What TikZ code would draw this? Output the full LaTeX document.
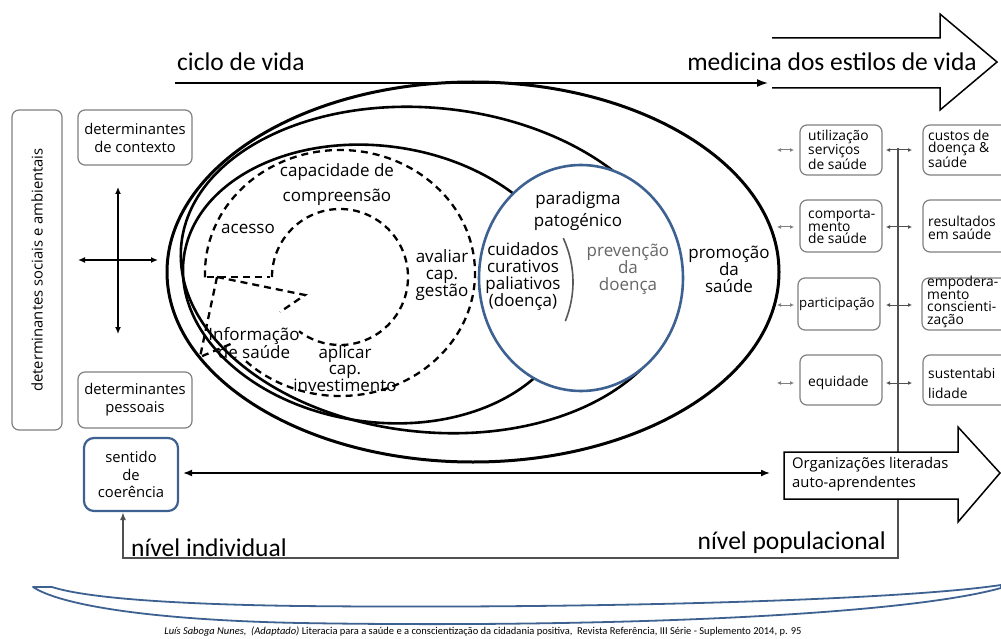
\documentclass[tikz,border=0pt]{standalone}
\usepackage{fontspec}
\setmainfont{Open Sans}
\newfontfamily\calfont{Carlito}
\usetikzlibrary{arrows.meta}
\definecolor{bblue}{HTML}{3D6190}
\definecolor{bgray}{HTML}{808080}
\definecolor{dgray}{HTML}{505050}
\begin{document}
\begin{tikzpicture}[x=1pt,y=-1pt,
  gbox/.style={draw=bgray, line width=1.2pt, rounded corners=7pt, fill=white, inner sep=0pt},
  ell/.style={line width=2.6pt},
  dsh/.style={line width=2.3pt, dash pattern=on 7pt off 5pt},
  lbl/.style={align=center, inner sep=0pt, font=\fontsize{17}{17}\selectfont},
  btxt/.style={align=center, inner sep=0pt, font=\fontsize{14.8}{18}\selectfont},
  rtxt/.style={align=left, inner sep=0pt, anchor=west, font=\fontsize{13.8}{12.5}\selectfont},
  sarr/.style={{Latex[length=4pt,width=4pt]}-{Latex[length=4pt,width=4pt]}, line width=1pt},
  bigtxt/.style={inner sep=0pt, font=\calfont\fontsize{25.5}{28}\selectfont},
]
\useasboundingbox (0,0) rectangle (1001,639);
\fill[white] (0,0) rectangle (1001,639);

% top arrow "ciclo de vida"
\coordinate (cv1) at (175,83);
\coordinate (cv2) at (768,83);
\draw[-{Latex[length=11pt,width=8pt]}, line width=1.6pt] (cv1) -- (cv2);
\node[bigtxt, anchor=west] (cvt) at (177,62) {ciclo de vida};

% big outlined arrow top right
\draw[line width=1.5pt, line join=miter] (772,38) -- (940,38) -- (940,14) -- (997,62) -- (940,110) -- (940,88) -- (772,88);
\node[bigtxt] (med) at (832,62) {medicina dos estilos de vida};

% ellipses
\draw[ell, line width=3pt] (473,272) ellipse [x radius=306, y radius=190];
\begin{scope}[shift={(430,270)}, rotate=-6]
  \draw[ell] (0,0) ellipse [x radius=250, y radius=162];
\end{scope}
\begin{scope}[shift={(378,284)}, rotate=-8]
  \draw[ell] (0,0) ellipse [x radius=196, y radius=138];
\end{scope}

% dashed figure
\draw[dsh] (340,273) ++(178:135 and 123) arc[start angle=178, end angle=496, x radius=135, y radius=123];
\draw[dsh] (340,277) ++(180:68) arc[start angle=180, end angle=487, radius=68];
\coordinate (k1) at (207,277);
\coordinate (k2) at (270,277);
\coordinate (k3) at (217,277);
\coordinate (k4) at (305,295);
\coordinate (k5) at (280,312);
\coordinate (k6) at (200,357);
\coordinate (k7) at (233,343);
\draw[dsh] (k1) -- (k2);
\draw[dsh] (k3) -- (k4) -- (k5);
\draw[dsh] (k3) -- (k6) -- (k7);

% blue circle
\draw[bblue, line width=2.6pt, fill=white] (581,278) ellipse [x radius=102, y radius=113];
\draw[black!65, line width=1.6pt] (375,282) ++(-18:198 and 142) arc[start angle=-18, end angle=16, x radius=198, y radius=142];

% labels in ellipses
\node[lbl] (cap1) at (337,172) {capacidade de};
\node[lbl] (cap2) at (337,197) {compreensão};
\node[lbl] (ace) at (248,229) {acesso};
\node[lbl] (ava) at (442,275) {avaliar\\cap.\\gestão};
\node[lbl] (inf) at (254,343) {Informação\\de saúde};
\node[lbl, font=\fontsize{17}{15.5}\selectfont] (apl) at (345,369) {aplicar\\cap.\\investimento};
\node[lbl, font=\fontsize{17}{22}\selectfont] (par) at (578,211) {paradigma\\patogénico};
\node[lbl] (cui) at (523,277) {cuidados\\curativos\\paliativos\\(doença)};
\node[lbl, text=black!60] (pre) at (628,269) {prevenção\\da\\doença};
\node[lbl] (pro) at (729,269) {promoção\\da\\saúde};

% left boxes
\node[gbox, minimum width=50, minimum height=320] (dsa) at (37,270) {};
\node[btxt, rotate=90] (dsat) at (dsa.center) {determinantes sociais e ambientais};
\node[gbox, minimum width=114, minimum height=55] (dc) at (135,137.5) {};
\node[btxt] (dct) at (dc.center) {determinantes\\de contexto};
\node[gbox, minimum width=114, minimum height=56] (dp) at (135,400) {};
\node[btxt] (dpt) at (dp.center) {determinantes\\pessoais};
\node[draw=bblue, line width=2.2pt, rounded corners=10pt, fill=white, inner sep=0pt, minimum width=94, minimum height=73] (sc) at (131,474.5) {};
\node[btxt, font=\fontsize{14.8}{17.5}\selectfont] (sct) at (sc.center) {sentido\\de\\coerência};

% cross arrows
\coordinate (cr1) at (118,187);
\coordinate (cr2) at (118,334);
\coordinate (cr3) at (78,260);
\coordinate (cr4) at (158,260);
\draw[{Latex[length=7pt,width=6pt]}-{Latex[length=7pt,width=6pt]}, line width=1.3pt] (cr1) -- (cr2);
\draw[{Latex[length=7pt,width=6pt]}-{Latex[length=7pt,width=6pt]}, line width=1.3pt] (cr3) -- (cr4);

% population line
\coordinate (vtop) at (898,148);
\coordinate (vbot) at (898,558);
\coordinate (hl) at (123,558);
\draw[dgray, line width=1.4pt, -{Latex[length=8pt,width=6pt]}] (vtop) -- (vbot) -- (hl) -- (hl |- sc.south);

% right boxes column 1
\node[gbox, minimum width=82, minimum height=50] (r1) at (841,150) {};
\node[rtxt] at (808,150) {utilização\\serviços\\de saúde};
\node[gbox, minimum width=82, minimum height=52] (r2) at (841,226) {};
\node[rtxt] at (808,227) {comporta-\\mento\\de saúde};
\node[gbox, minimum width=82, minimum height=52] (r3) at (839,304) {};
\node[rtxt, font=\fontsize{13.2}{12}\selectfont] at (799,304) {participação};
\node[gbox, minimum width=82, minimum height=50] (r4) at (841,380) {};
\node[rtxt] at (808,383) {equidade};

% right boxes column 2
\node[gbox, minimum width=90, minimum height=50] (s1) at (968,150) {};
\node[rtxt] at (928,149) {custos de\\doença \&\\saúde};
\node[gbox, minimum width=90, minimum height=52] (s2) at (968,226) {};
\node[rtxt] at (928,228) {resultados\\em saúde};
\node[gbox, minimum width=90, minimum height=52] (s3) at (967,304) {};
\node[rtxt] at (927,302) {empodera-\\mento\\conscienti-\\zação};
\node[gbox, minimum width=90, minimum height=50] (s4) at (968,380) {};
\node[rtxt, font=\fontsize{13.8}{20}\selectfont] at (928,383) {sustentabi\\lidade};

% small double arrows
\foreach \y in {150,227,305,383} {
  \draw[sarr, bgray] (777,\y) -- (794,\y);
  \draw[sarr, dgray] (886,\y) -- (912,\y);
}

% bottom arrow
\draw[line width=1.5pt, fill=white, line join=miter] (784,452) -- (958,452) -- (958,427) -- (1000,473) -- (958,522) -- (958,499) -- (784,499) -- cycle;
\node[anchor=west, align=left, inner sep=0pt, font=\fontsize{14.8}{18.5}\selectfont] (org) at (792,474) {Organizações literadas\\auto-aprendentes};

% horizontal double arrow
\coordinate (oa) at (770,473);
\draw[{Latex[length=9pt,width=7pt]}-{Latex[length=9pt,width=7pt]}, line width=1.5pt, shorten <=4pt] (sc.east |- oa) -- (oa);

% level labels
\node[bigtxt, anchor=west] (ni) at (131,548) {nível individual};
\node[bigtxt, anchor=east] (np) at (886,543) {nível populacional};

% blue blade
\draw[bblue, line width=1.8pt, fill=white, line join=round] (33,587) .. controls (60,605) and (150,620) .. (300,623) .. controls (600,628) and (900,616) .. (1001,588) -- (1001,585) .. controls (900,600) and (600,609) .. (300,606) .. controls (150,604) and (80,596) .. (52,587) -- cycle;

% footer
\node[inner sep=0pt, font=\calfont\fontsize{10.5}{12}\selectfont] (foot) at (483,632) {\textit{Luís Saboga Nunes,}\ \ \textit{(Adaptado)} Literacia para a saúde e a conscientização da cidadania positiva,\ \ Revista Referência, III Série - Suplemento 2014, p. 95};
\end{tikzpicture}
\end{document}
